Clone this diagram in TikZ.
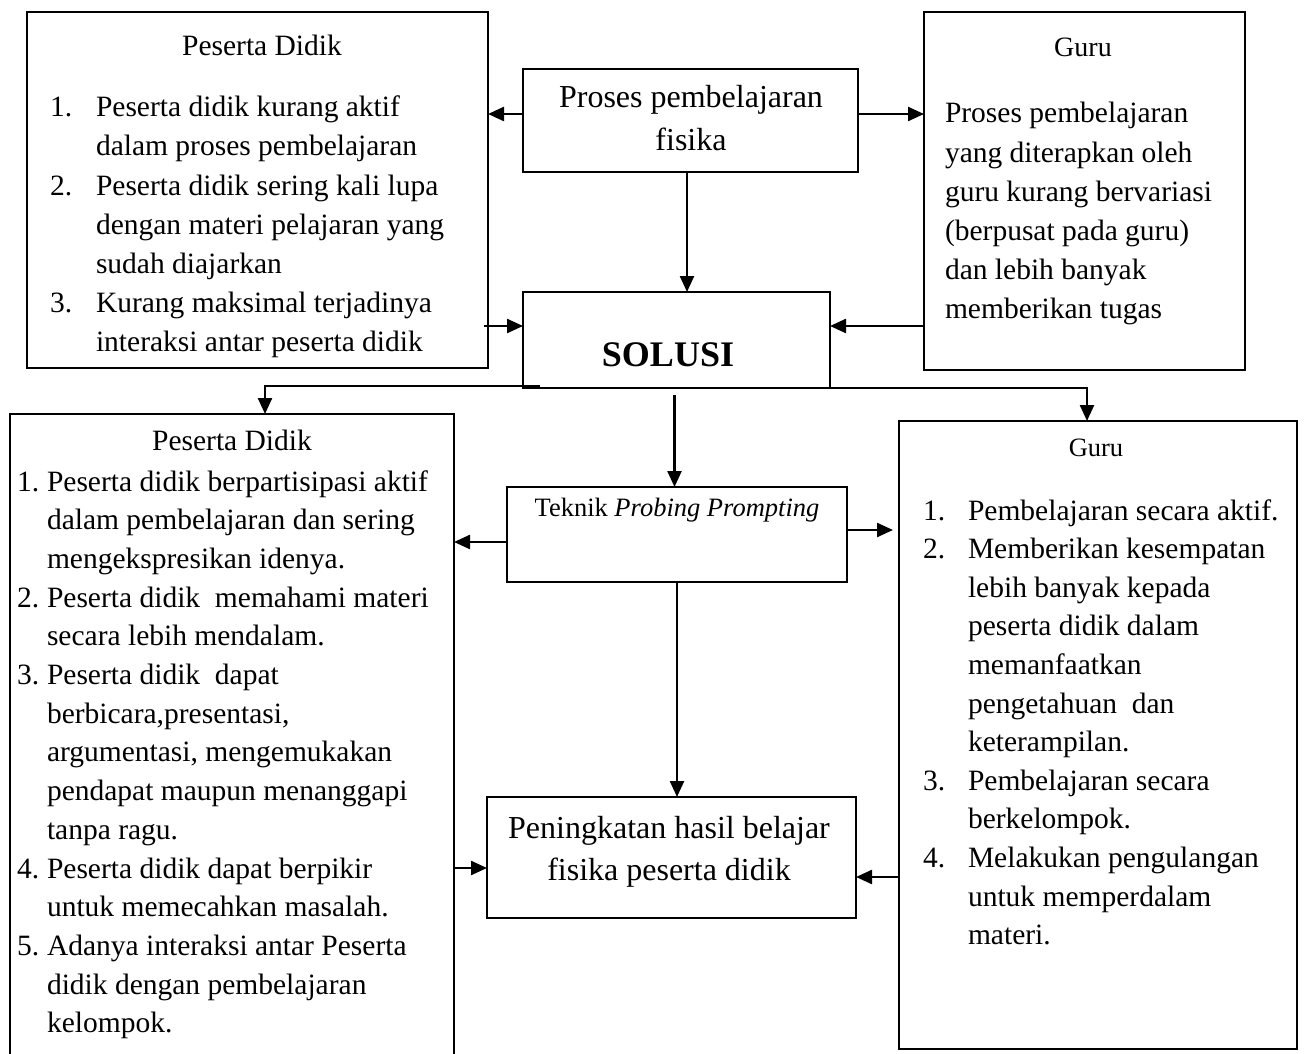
\documentclass[tikz,border=0pt]{standalone}
\usepackage{fontspec}
\setmainfont{Liberation Serif}
\usetikzlibrary{arrows.meta,calc}
\begin{document}
\begin{tikzpicture}[x=1pt,y=-1pt,
  box/.style={draw, line width=2pt, inner sep=0pt, outer sep=0pt, anchor=north west},
  arr/.style={line width=2.4pt, -{Triangle[length=16pt,width=14pt]}},
  txt/.style={inner sep=0pt, outer sep=0pt, anchor=base west, font=\fontsize{29.5}{36}\selectfont},
  ctxt/.style={inner sep=0pt, outer sep=0pt, anchor=base, font=\fontsize{29.5}{36}\selectfont},
  big/.style={inner sep=0pt, outer sep=0pt, anchor=base, font=\fontsize{32}{40}\selectfont},
  small/.style={inner sep=0pt, outer sep=0pt, anchor=base, font=\fontsize{26.5}{32}\selectfont}]
\fill[white] (0,0) rectangle (1304,1054);
\useasboundingbox (0,0) rectangle (1304,1054);

% boxes
\node[box, minimum width=461pt, minimum height=356pt] (tl) at (27,12) {};
\node[box, minimum width=335pt, minimum height=103pt] (pr) at (523,69) {};
\node[box, minimum width=321pt, minimum height=358pt] (tr) at (924,12) {};
\node[box, minimum width=307pt, minimum height=96pt] (so) at (523,292) {};
\node[box, minimum width=444pt, minimum height=660pt] (bl) at (10,414) {};
\node[box, minimum width=340pt, minimum height=95pt] (tk) at (507,487) {};
\node[box, minimum width=369pt, minimum height=121pt] (pk) at (487,797) {};
\node[box, minimum width=398pt, minimum height=628pt] (br) at (899,421) {};

% top-left texts
\node[ctxt] (tlh) at (262,56) {Peserta Didik};
\node[txt] (tln1) at (50,117) {1.};
\node[txt] (tln2) at (50,195) {2.};
\node[txt] (tln3) at (50,312) {3.};
\foreach \yy/\tx [count=\k] in {117/{Peserta didik kurang aktif},156/{dalam proses pembelajaran},195/{Peserta didik sering kali lupa},234/{dengan materi pelajaran yang},273/{sudah diajarkan},312/{Kurang maksimal terjadinya},351/{interaksi antar peserta didik}}
  \node[txt] (tlt\k) at (96,\yy) {\tx};

% top-right texts
\node[ctxt, font=\fontsize{28}{34}\selectfont] (trh) at (1083,57) {Guru};
\foreach \yy/\tx [count=\k] in {123/{Proses pembelajaran},162/{yang diterapkan oleh},201/{guru kurang bervariasi},240/{(berpusat pada guru)},279/{dan lebih banyak},318/{memberikan tugas}}
  \node[txt] (trt\k) at (945,\yy) {\tx};

% centre texts
\node[big] (prt1) at (691,108) {Proses pembelajaran};
\node[big] (prt2) at (691,151) {fisika};
\node[inner sep=0pt, anchor=base, font=\fontsize{36}{42}\selectfont\bfseries] (sot) at (668,366) {SOLUSI};
\node[small] (tkt) at (677,516) {Teknik \textit{Probing Prompting}};
\node[big] (pkt1) at (669,838) {Peningkatan hasil belajar};
\node[big] (pkt2) at (669,880) {fisika peserta didik};

% bottom-left texts
\node[ctxt] (blh) at (232,450) {Peserta Didik};
\node[txt] (bln1) at (17,491) {1.};
\node[txt] (bln2) at (17,607.1) {2.};
\node[txt] (bln3) at (17,684.5) {3.};
\node[txt] (bln4) at (17,878) {4.};
\node[txt] (bln5) at (17,955.4) {5.};
\foreach \yy/\tx [count=\k] in {491/{Peserta didik berpartisipasi aktif},529.7/{dalam pembelajaran dan sering},568.4/{mengekspresikan idenya.},607.1/{Peserta didik\ \ memahami materi},645.8/{secara lebih mendalam.},684.5/{Peserta didik\ \ dapat},723.2/{berbicara,presentasi,},761.9/{argumentasi, mengemukakan},800.6/{pendapat maupun menanggapi},839.3/{tanpa ragu.},878/{Peserta didik dapat berpikir},916.7/{untuk memecahkan masalah.},955.4/{Adanya interaksi antar Peserta},994.1/{didik dengan pembelajaran},1032.8/{kelompok.}}
  \node[txt] (blt\k) at (47,\yy) {\tx};

% bottom-right texts
\node[small] (brh) at (1096,456) {Guru};
\node[txt] (brn1) at (923,520) {1.};
\node[txt] (brn2) at (923,558.6) {2.};
\node[txt] (brn3) at (923,790.2) {3.};
\node[txt] (brn4) at (923,867.4) {4.};
\foreach \yy/\tx [count=\k] in {520/{Pembelajaran secara aktif.},558.6/{Memberikan kesempatan},597.2/{lebih banyak kepada},635.8/{peserta didik dalam},674.4/{memanfaatkan},713/{pengetahuan\ \ dan},751.6/{keterampilan.},790.2/{Pembelajaran secara},828.8/{berkelompok.},867.4/{Melakukan pengulangan},906/{untuk memperdalam},944.6/{materi.}}
  \node[txt] (brt\k) at (968,\yy) {\tx};

% connectors
\draw[arr] (pr.west |- 0,114) -- (tl.east |- 0,114);
\draw[arr] (pr.east |- 0,114) -- (tr.west |- 0,114);
\draw[arr] (pr.south -| 687,0) -- (so.north -| 687,0);
\draw[arr] ($(tl.east |- 0,326)+(-4,0)$) -- (so.west |- 0,326);
\draw[arr] (tr.west |- 0,326) -- (so.east |- 0,326);
\draw[arr] ($(so.south west)+(17,-2)$) -- (265,386) -- (bl.north -| 265,0);
\draw[arr] (so.south east) -| (br.north -| 1087,0);
\draw[arr] ($(so.south)+(-2,7)$) -- ($(so.south |- tk.north)+(-2,0)$);
\draw[arr] (tk.west |- 0,542) -- (bl.east |- 0,542);
\draw[arr] (tk.east |- 0,530) -- ($(br.west |- 0,530)+(-6,0)$);
\draw[arr] (tk.south) -- (tk.south |- pk.north);
\draw[arr] (bl.east |- 0,868) -- (pk.west |- 0,868);
\draw[arr] (br.west |- 0,877) -- (pk.east |- 0,877);
\end{tikzpicture}
\end{document}
